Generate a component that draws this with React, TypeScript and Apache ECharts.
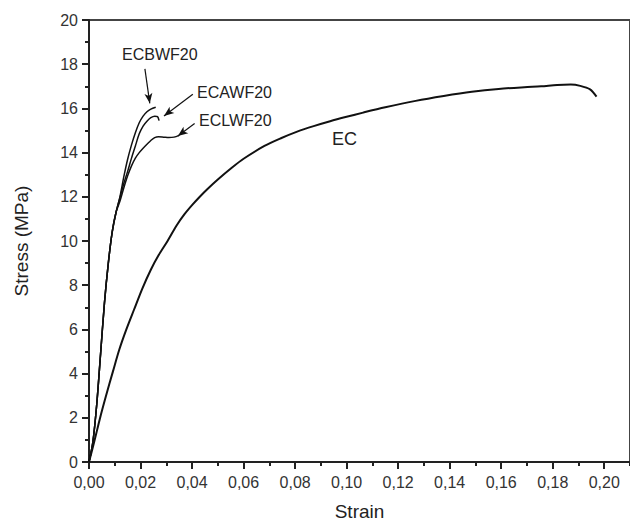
import React, { useEffect, useRef } from "react";
import * as echarts from "echarts";

// Strain values (x) and stress values (MPa) for each curve
const ecStrain = [0, 0.002, 0.0042, 0.0065, 0.0093, 0.0118, 0.0145, 0.0175, 0.0207, 0.024, 0.027, 0.0305, 0.034, 0.037, 0.04, 0.043, 0.046, 0.05, 0.0553, 0.06, 0.0681, 0.0745, 0.0808, 0.0872, 0.0936, 0.1, 0.1064, 0.115, 0.1268, 0.1377, 0.1486, 0.159, 0.169, 0.1755, 0.1817, 0.187, 0.1907, 0.1945, 0.197];
const ecStress = [0, 0.9, 1.95, 2.95, 4.1, 5.1, 6.0, 6.9, 7.85, 8.7, 9.35, 10.0, 10.7, 11.2, 11.62, 12.0, 12.35, 12.78, 13.3, 13.72, 14.3, 14.65, 14.95, 15.2, 15.42, 15.62, 15.81, 16.05, 16.34, 16.56, 16.75, 16.88, 16.96, 17.0, 17.06, 17.08, 17.02, 16.86, 16.53];

const bStrain = [0, 0.0015, 0.003, 0.0045, 0.006, 0.0075, 0.009, 0.0105, 0.012, 0.0135, 0.015, 0.0165, 0.018, 0.0195, 0.021, 0.0225, 0.024, 0.0259];
const bStress = [0, 0.9, 2.6, 4.9, 7.2, 9.0, 10.4, 11.3, 12.0, 12.9, 13.7, 14.35, 14.9, 15.35, 15.65, 15.85, 15.97, 16.05];

const aStrain = [0, 0.0015, 0.003, 0.0045, 0.006, 0.0075, 0.009, 0.0105, 0.012, 0.0135, 0.015, 0.0165, 0.018, 0.0195, 0.021, 0.0225, 0.024, 0.0255, 0.0266, 0.0272];
const aStress = [0, 0.9, 2.6, 4.9, 7.2, 9.0, 10.4, 11.3, 11.95, 12.6, 13.15, 13.75, 14.3, 14.85, 15.2, 15.42, 15.58, 15.65, 15.63, 15.45];

const lStrain = [0, 0.0015, 0.003, 0.0045, 0.006, 0.0075, 0.009, 0.0105, 0.012, 0.0135, 0.015, 0.0165, 0.018, 0.0195, 0.021, 0.0225, 0.024, 0.0255, 0.027, 0.029, 0.031, 0.033, 0.035];
const lStress = [0, 0.9, 2.6, 4.9, 7.2, 9.0, 10.4, 11.3, 11.8, 12.4, 12.95, 13.4, 13.75, 14.0, 14.2, 14.38, 14.55, 14.68, 14.72, 14.7, 14.68, 14.7, 14.78];

const curveNames = ["EC", "ECBWF20", "ECAWF20", "ECLWF20"];

const zip = (xs: number[], ys: number[]) => xs.map((x, i) => [x, ys[i]]);

const FONT = "Liberation Sans, Arial, sans-serif";

export default function App() {
  const ref = useRef<HTMLDivElement>(null);
  useEffect(() => {
    if (!ref.current) return;
    const chart = echarts.init(ref.current, null, { renderer: "svg" });
    const lineStyle = { color: "#111", width: 1.5 };
    const arrow = (from: number[], to: number[]) => [
      { coord: from, symbol: "none" },
      { coord: to, symbol: "arrow", symbolSize: [6, 10] },
    ];
    chart.setOption({
      animation: false,
      backgroundColor: "#fff",
      grid: {
        left: 89,
        top: 20,
        width: 548,
        height: 446,
        show: true,
        borderColor: "#444",
        borderWidth: 2,
        backgroundColor: "transparent",
      },
      xAxis: [
        {
          type: "value",
          min: 0,
          max: 0.21,
          interval: 0.02,
          name: "Strain",
          nameLocation: "middle",
          nameGap: 40,
          nameTextStyle: { fontFamily: FONT, fontSize: 19, color: "#222" },
          axisLine: { show: true, lineStyle: { color: "#222", width: 2 } },
          axisTick: { show: true, length: 7, lineStyle: { color: "#222", width: 2 } },
          axisLabel: {
            fontFamily: FONT,
            fontSize: 16,
            color: "#333",
            margin: 12,
            showMaxLabel: false,
            formatter: (v: number) => (v > 0.205 ? "" : v.toFixed(2).replace(".", ",")),
          },
          splitLine: { show: false },
        },
        {
          type: "value",
          min: 0,
          max: 0.21,
          interval: 0.01,
          position: "bottom",
          axisLine: { show: false },
          axisTick: { show: true, length: 4, lineStyle: { color: "#222", width: 2 } },
          axisLabel: { show: false },
          splitLine: { show: false },
        },
      ],
      yAxis: {
        type: "value",
        min: 0,
        max: 20,
        interval: 2,
        name: "Stress (MPa)",
        nameLocation: "middle",
        nameGap: 58,
        nameTextStyle: { fontFamily: FONT, fontSize: 19, color: "#222" },
        axisLine: { show: true, lineStyle: { color: "#222", width: 2 } },
        axisTick: { show: true, length: 7, lineStyle: { color: "#222", width: 2 } },
        minorTick: { show: true, splitNumber: 2, length: 4, lineStyle: { color: "#222", width: 2 } },
        axisLabel: { fontFamily: FONT, fontSize: 16, color: "#333", margin: 11 },
        splitLine: { show: false },
      },
      series: [
        {
          name: curveNames[0],
          type: "line",
          data: zip(ecStrain, ecStress),
          showSymbol: false,
          smooth: 0.3,
          lineStyle: { color: "#111", width: 2 },
        },
        {
          name: curveNames[1],
          type: "line",
          data: zip(bStrain, bStress),
          showSymbol: false,
          smooth: 0.3,
          lineStyle,
          markLine: {
            silent: true,
            animation: false,
            label: { show: false },
            lineStyle: { color: "#111", width: 1.2, type: "solid" },
            data: [
              arrow([0.0217, 17.79], [0.0236, 16.23]),
              arrow([0.0403, 16.64], [0.0291, 15.66]),
              arrow([0.041, 15.32], [0.0345, 14.75]),
            ],
          },
        },
        {
          name: curveNames[2],
          type: "line",
          data: zip(aStrain, aStress),
          showSymbol: false,
          smooth: 0.3,
          lineStyle,
        },
        {
          name: curveNames[3],
          type: "line",
          data: zip(lStrain, lStress),
          showSymbol: false,
          smooth: 0.3,
          lineStyle,
        },
      ],
      graphic: [
        { type: "text", left: 122, top: 46, style: { text: curveNames[1], font: `16px ${FONT}`, fill: "#222" } },
        { type: "text", left: 197, top: 84, style: { text: curveNames[2], font: `16px ${FONT}`, fill: "#222" } },
        { type: "text", left: 199, top: 112, style: { text: curveNames[3], font: `16px ${FONT}`, fill: "#222" } },
        { type: "text", left: 332, top: 130, style: { text: curveNames[0], font: `18px ${FONT}`, fill: "#222" } },
      ],
    });
    return () => chart.dispose();
  }, []);
  return (
    <div
      ref={ref}
      style={{ position: "fixed", left: 0, top: 0, width: 630, height: 526 }}
    />
  );
}
